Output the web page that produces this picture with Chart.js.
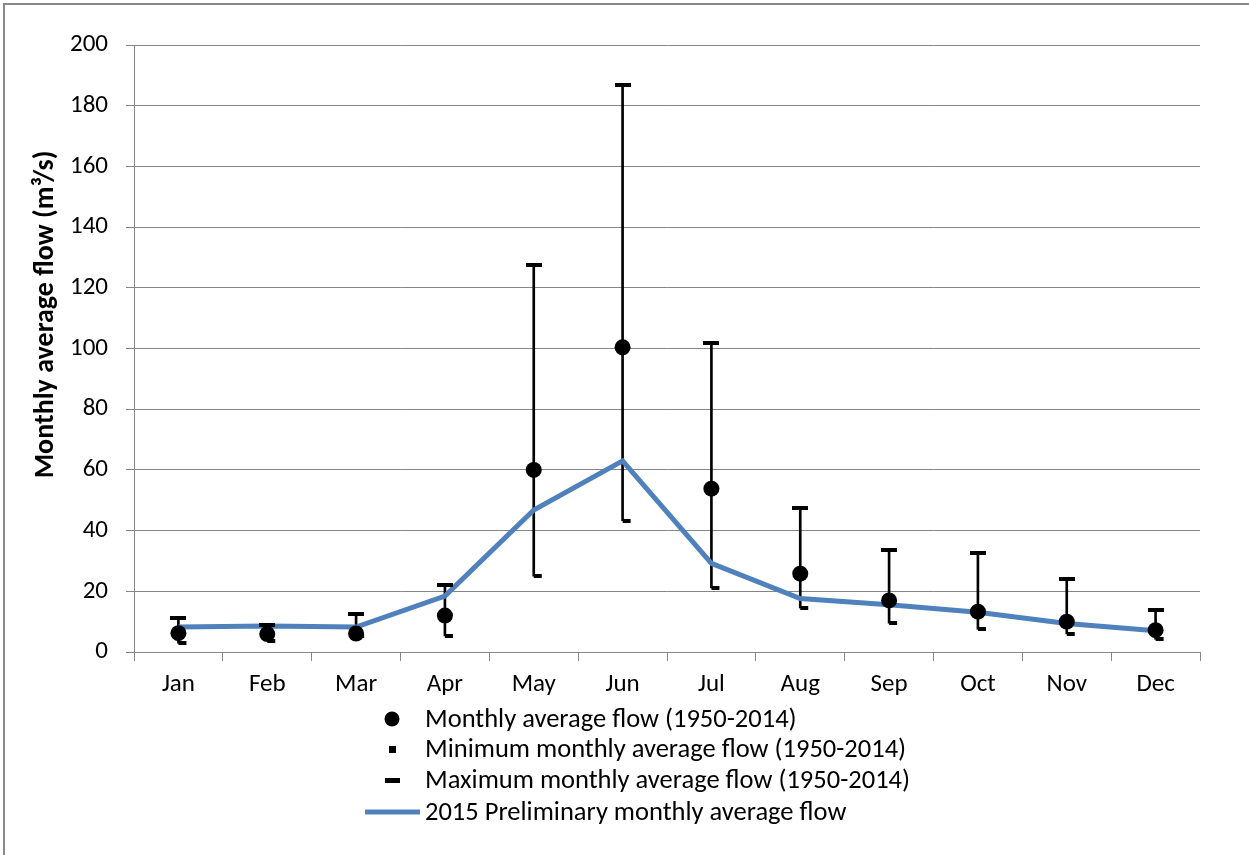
<!DOCTYPE html>
<html>
<head>
<meta charset="utf-8">
<script src="https://cdn.jsdelivr.net/npm/chart.js@4/dist/chart.umd.min.js"></script>
<style>
  html, body { margin: 0; padding: 0; background: #fff; overflow: hidden; }
  #frame { position: absolute; left: 3px; top: 3px; width: 1400px; height: 1000px;
           border-left: 2px solid #888; border-top: 2px solid #888; }
  #wrap { position: absolute; left: 0; top: 0; width: 1249px; height: 855px; }
</style>
</head>
<body>
<div id="frame"></div>
<div id="wrap"><canvas id="flowChart" width="1249" height="855"></canvas></div>
<script>
const months = ['Jan', 'Feb', 'Mar', 'Apr', 'May', 'Jun', 'Jul', 'Aug', 'Sep', 'Oct', 'Nov', 'Dec'];
const meanFlow = [6.2, 5.9, 6.1, 12.0, 60.0, 100.4, 53.8, 25.8, 17.0, 13.3, 10.0, 7.2];
const minFlow  = [2.9, 3.7, 5.2, 5.3, 25.0, 43.3, 21.1, 14.5, 9.5, 7.5, 6.0, 4.2];
const maxFlow  = [11.3, 8.8, 12.6, 22.0, 127.6, 186.9, 101.8, 47.4, 33.6, 32.6, 24.2, 13.8];
const flow2015 = [8.2, 8.6, 8.2, 18.4, 46.8, 63.0, 29.2, 17.6, 15.6, 13.1, 9.4, 7.0];
const yTicks = [0, 20, 40, 60, 80, 100, 120, 140, 160, 180, 200];
const yTitle = 'Monthly average flow (m³/s)';

const FONT = 'Carlito, "Liberation Sans", Arial, sans-serif';
const BLUE = '#4F81BD';
const GRID = '#868686';

// little canvases used as point styles for the min / max caps
function capCanvas(w, h, dx, dw) {
  const c = document.createElement('canvas');
  c.width = w; c.height = h;
  const g = c.getContext('2d');
  g.fillStyle = '#000';
  g.fillRect(dx, 0, dw, h);
  return c;
}
const maxCap = capCanvas(16, 4, 0, 16);
const minCap = capCanvas(18, 4, 9, 8);

// y title (sits a bit above the plot centre, like the original) and
// the vertical legend under the plot
const extras = {
  id: 'extras',
  afterDraw(chart) {
    const ctx = chart.ctx;
    const area = chart.chartArea;

    ctx.save();
    ctx.translate(46, (area.top + area.bottom) / 2 - 34);
    ctx.rotate(-Math.PI / 2);
    ctx.font = 'bold 28px ' + FONT;
    ctx.fillStyle = '#000';
    ctx.textAlign = 'center';
    ctx.textBaseline = 'middle';
    ctx.fillText(yTitle, 0, 0);
    ctx.restore();

    const rows = [
      { text: 'Monthly average flow (1950-2014)', kind: 'dot', dy: 67 },
      { text: 'Minimum monthly average flow (1950-2014)', kind: 'min', dy: 97 },
      { text: 'Maximum monthly average flow (1950-2014)', kind: 'max', dy: 128 },
      { text: '2015 Preliminary monthly average flow', kind: 'line', dy: 160 },
    ];
    const mx = 392, tx = 425;
    ctx.save();
    ctx.font = '26.5px ' + FONT;
    ctx.textBaseline = 'middle';
    rows.forEach(r => {
      const y = area.bottom + r.dy;
      ctx.fillStyle = '#000';
      if (r.kind === 'dot') {
        ctx.beginPath(); ctx.arc(mx, y, 7.5, 0, Math.PI * 2); ctx.fill();
      } else if (r.kind === 'min') {
        ctx.fillRect(mx - 3, y - 3, 7, 7);
      } else if (r.kind === 'max') {
        ctx.fillRect(mx - 7, y - 2, 15, 5);
      } else {
        ctx.strokeStyle = BLUE; ctx.lineWidth = 5;
        ctx.beginPath(); ctx.moveTo(365, y); ctx.lineTo(420, y); ctx.stroke();
      }
      ctx.fillStyle = '#000';
      ctx.fillText(r.text, tx, y + 1);
    });
    ctx.restore();
  }
};

new Chart(document.getElementById('flowChart').getContext('2d'), {
  type: 'bar',
  data: {
    labels: months,
    datasets: [
      {
        type: 'bar',
        label: 'range',
        data: months.map((m, i) => [minFlow[i], maxFlow[i]]),
        backgroundColor: '#000',
        barThickness: 2,
        order: 5,
      },
      {
        type: 'line',
        label: '2015 Preliminary monthly average flow',
        data: flow2015,
        borderColor: BLUE,
        borderWidth: 5,
        pointRadius: 0,
        tension: 0,
        fill: false,
        order: 4,
      },
      {
        type: 'line',
        label: 'Maximum monthly average flow (1950-2014)',
        data: maxFlow,
        showLine: false,
        pointStyle: maxCap,
        order: 3,
      },
      {
        type: 'line',
        label: 'Minimum monthly average flow (1950-2014)',
        data: minFlow,
        showLine: false,
        pointStyle: minCap,
        order: 3,
      },
      {
        type: 'line',
        label: 'Monthly average flow (1950-2014)',
        data: meanFlow,
        showLine: false,
        pointStyle: 'circle',
        pointRadius: 8,
        pointBackgroundColor: '#000',
        pointBorderColor: '#000',
        pointBorderWidth: 0,
        order: 1,
      },
    ],
  },
  options: {
    responsive: false,
    animation: false,
    events: [],
    layout: { padding: { left: 0, right: 49, top: 45, bottom: 133 } },
    plugins: {
      legend: { display: false },
      tooltip: { enabled: false },
    },
    scales: {
      x: {
        offset: true,
        afterFit(scale) { scale.height = 70; },
        grid: { offset: true, drawOnChartArea: false, drawTicks: true, tickLength: 9, color: GRID },
        border: { color: GRID, width: 1 },
        ticks: { color: '#000', font: { family: FONT, size: 25 }, padding: 9 },
      },
      y: {
        min: 0,
        max: 200,
        afterFit(scale) { scale.width = 134; },
        afterBuildTicks(scale) { scale.ticks = yTicks.map(v => ({ value: v })); },
        grid: { color: GRID, lineWidth: 1, tickLength: 8 },
        border: { color: GRID, width: 1 },
        ticks: { color: '#000', font: { family: FONT, size: 25 }, padding: 18 },
      },
    },
  },
  plugins: [extras],
});
</script>
</body>
</html>
